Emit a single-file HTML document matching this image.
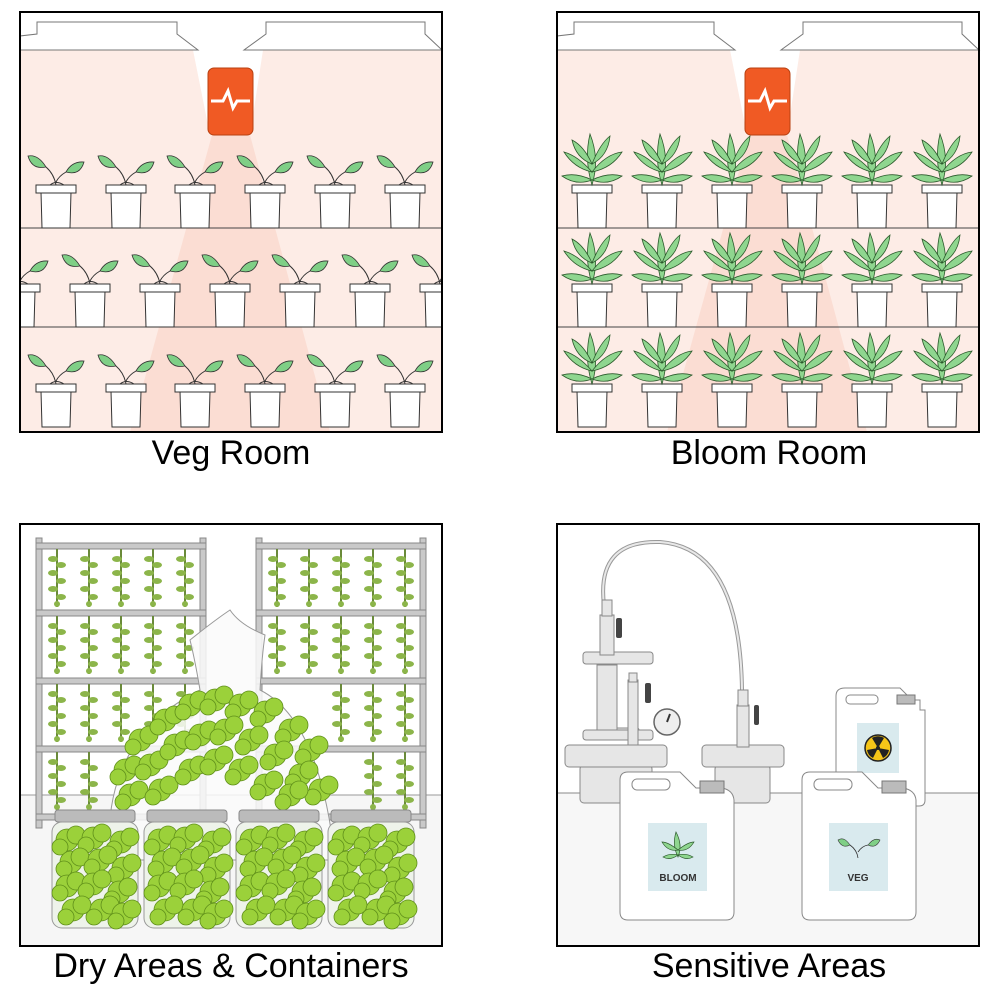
<!DOCTYPE html>
<html><head><meta charset="utf-8"><style>
body{margin:0;background:#fff;width:1000px;height:1000px;overflow:hidden}
.l{position:absolute;font-family:"Liberation Sans",sans-serif;font-size:34px;color:#000;text-align:center;width:440px}
</style></head><body>
<svg width="1000" height="1000" style="position:absolute;left:0;top:0" xmlns="http://www.w3.org/2000/svg">
<defs>
<g id="vp">
<path d="M-15,-2 L-14,34 L14,34 L15,-2Z" fill="#fff" stroke="#333" stroke-width="1"/>
<rect x="-20" y="-9" width="40" height="8" fill="#fff" stroke="#333" stroke-width="1"/>
<path d="M-6,-9 Q0,-14 8,-9" fill="none" stroke="#333"/>
<path d="M0,-9 Q-2,-20 -10,-27 M0,-12 Q3,-18 10,-22" fill="none" stroke="#333"/>
<path d="M-10,-27 Q-18,-40 -28,-38 Q-24,-24 -10,-27Z" fill="#7fcf86" stroke="#333" stroke-width=".8"/>
<path d="M10,-22 Q16,-33 28,-32 Q24,-18 10,-22Z" fill="#7fcf86" stroke="#333" stroke-width=".8"/>
</g>
<g id="bp">
<path d="M-15,-2 L-14,34 L14,34 L15,-2Z" fill="#fff" stroke="#333" stroke-width="1"/>
<rect x="-20" y="-9" width="40" height="8" fill="#fff" stroke="#333" stroke-width="1"/>
<g fill="#8fd68f" stroke="#2c5a2c" stroke-width=".8">
<path d="M0,-9 Q-8,-35 -2,-60 Q8,-35 0,-9Z"/>
<path d="M0,-22 Q-14,-38 -28,-42 Q-18,-26 0,-22Z"/>
<path d="M0,-22 Q14,-40 30,-42 Q20,-26 0,-22Z"/>
<path d="M0,-14 Q-16,-22 -30,-18 Q-16,-8 0,-14Z"/>
<path d="M0,-14 Q16,-22 30,-18 Q16,-8 0,-14Z"/>
<path d="M0,-30 Q8,-50 18,-58 Q16,-38 0,-30Z"/>
<path d="M0,-30 Q-8,-48 -20,-54 Q-16,-36 0,-30Z"/>
</g>
</g>
<g id="hang"><path d="M0,0 v58" stroke="#6a8a3a" stroke-width="2"/>
<g fill="#8cb54a"><ellipse cx="-4" cy="10" rx="5" ry="3"/><ellipse cx="4" cy="16" rx="5" ry="3"/><ellipse cx="-4" cy="24" rx="5" ry="3"/><ellipse cx="4" cy="32" rx="5" ry="3"/><ellipse cx="-4" cy="40" rx="5" ry="3"/><ellipse cx="4" cy="48" rx="5" ry="3"/><ellipse cx="0" cy="55" rx="3" ry="3"/></g></g>
<g id="bud" fill="#9bd13a" stroke="#5f8f1a" stroke-width=".8"><circle r="11"/><circle cx="9" cy="-5" r="9"/><circle cx="-7" cy="7" r="8"/></g>
<g id="jar"><rect x="0" y="0" width="80" height="12" rx="3" fill="#bbb" stroke="#888"/><rect x="-3" y="12" width="86" height="106" rx="10" fill="#eef3ea" stroke="#999"/>
<g><use href="#bud" x="12" y="30"/><use href="#bud" x="38" y="28"/><use href="#bud" x="66" y="32"/><use href="#bud" x="16" y="52"/><use href="#bud" x="44" y="50"/><use href="#bud" x="68" y="58"/><use href="#bud" x="12" y="76"/><use href="#bud" x="38" y="74"/><use href="#bud" x="64" y="82"/><use href="#bud" x="18" y="100"/><use href="#bud" x="46" y="100"/><use href="#bud" x="68" y="104"/></g></g>
</defs>

<!-- Veg room -->
<g>
<rect x="20" y="12" width="422" height="420" fill="#fdece6"/>
<rect x="20" y="12" width="422" height="38" fill="#fff"/>
<path d="M193,50 L210,135 L250,135 L263,50Z" fill="#fff"/>
<path d="M212,135 L130,432 L330,432 L250,135Z" fill="#fadace" opacity=".8"/>
<path d="M37,22 L177,22 L177,34 L198,50 L20,50 L20,36 L37,34Z" fill="#fff" stroke="#777"/>
<path d="M266,22 L425,22 L425,34 L442,50 L263,50 L244,50 L266,34Z" fill="#fff" stroke="#777"/>
<rect x="208" y="68" width="45" height="67" rx="6" fill="#f05a24" stroke="#b84010"/>
<path d="M211,101 h12 l5,-10 l5,17 l4,-7 h13" fill="none" stroke="#fff" stroke-width="3"/>
<line x1="20" y1="228" x2="442" y2="228" stroke="#444"/>
<line x1="20" y1="327" x2="442" y2="327" stroke="#444"/>
<g><use href="#vp" x="56" y="194"/><use href="#vp" x="126" y="194"/><use href="#vp" x="195" y="194"/><use href="#vp" x="265" y="194"/><use href="#vp" x="335" y="194"/><use href="#vp" x="405" y="194"/></g>
<svg x="20" y="228" width="422" height="100" overflow="hidden"><g transform="translate(-20,-228)"><use href="#vp" x="20" y="293"/><use href="#vp" x="90" y="293"/><use href="#vp" x="160" y="293"/><use href="#vp" x="230" y="293"/><use href="#vp" x="300" y="293"/><use href="#vp" x="370" y="293"/><use href="#vp" x="440" y="293"/></g></svg>
<g><use href="#vp" x="56" y="393"/><use href="#vp" x="126" y="393"/><use href="#vp" x="195" y="393"/><use href="#vp" x="265" y="393"/><use href="#vp" x="335" y="393"/><use href="#vp" x="405" y="393"/></g>
<rect x="20" y="12" width="422" height="420" fill="none" stroke="#000" stroke-width="2"/>
</g>

<!-- Bloom room -->
<g>
<rect x="557" y="12" width="422" height="420" fill="#fdece6"/>
<rect x="557" y="12" width="422" height="38" fill="#fff"/>
<path d="M730,50 L747,135 L787,135 L800,50Z" fill="#fff"/>
<path d="M749,135 L667,432 L867,432 L787,135Z" fill="#fadace" opacity=".8"/>
<path d="M574,22 L714,22 L714,34 L735,50 L557,50 L557,36 L574,34Z" fill="#fff" stroke="#777"/>
<path d="M803,22 L962,22 L962,34 L979,50 L781,50 L803,34Z" fill="#fff" stroke="#777"/>
<rect x="745" y="68" width="45" height="67" rx="6" fill="#f05a24" stroke="#b84010"/>
<path d="M748,101 h12 l5,-10 l5,17 l4,-7 h13" fill="none" stroke="#fff" stroke-width="3"/>
<line x1="557" y1="228" x2="979" y2="228" stroke="#444"/>
<line x1="557" y1="327" x2="979" y2="327" stroke="#444"/>
<g><use href="#bp" x="592" y="194"/><use href="#bp" x="662" y="194"/><use href="#bp" x="732" y="194"/><use href="#bp" x="802" y="194"/><use href="#bp" x="872" y="194"/><use href="#bp" x="942" y="194"/></g>
<g><use href="#bp" x="592" y="293"/><use href="#bp" x="662" y="293"/><use href="#bp" x="732" y="293"/><use href="#bp" x="802" y="293"/><use href="#bp" x="872" y="293"/><use href="#bp" x="942" y="293"/></g>
<g><use href="#bp" x="592" y="393"/><use href="#bp" x="662" y="393"/><use href="#bp" x="732" y="393"/><use href="#bp" x="802" y="393"/><use href="#bp" x="872" y="393"/><use href="#bp" x="942" y="393"/></g>
<rect x="557" y="12" width="422" height="420" fill="none" stroke="#000" stroke-width="2"/>
</g>

<!-- Dry area -->
<g>
<rect x="20" y="524" width="422" height="422" fill="#fff"/>
<rect x="20" y="795" width="422" height="151" fill="#f6f6f6"/>
<line x1="20" y1="795" x2="442" y2="795" stroke="#999"/>
<g fill="#c9c9c9" stroke="#888">
<rect x="36" y="538" width="6" height="290"/><rect x="200" y="538" width="6" height="290"/>
<rect x="256" y="538" width="6" height="290"/><rect x="420" y="538" width="6" height="290"/>
<rect x="36" y="543" width="170" height="6"/><rect x="36" y="610" width="170" height="6"/><rect x="36" y="678" width="170" height="6"/><rect x="36" y="746" width="170" height="6"/><rect x="36" y="814" width="170" height="6"/>
<rect x="256" y="543" width="170" height="6"/><rect x="256" y="610" width="170" height="6"/><rect x="256" y="678" width="170" height="6"/><rect x="256" y="746" width="170" height="6"/><rect x="256" y="814" width="170" height="6"/>
</g>
<g>
<use href="#hang" x="57" y="549"/><use href="#hang" x="89" y="549"/><use href="#hang" x="121" y="549"/><use href="#hang" x="153" y="549"/><use href="#hang" x="185" y="549"/>
<use href="#hang" x="57" y="616"/><use href="#hang" x="89" y="616"/><use href="#hang" x="121" y="616"/><use href="#hang" x="153" y="616"/><use href="#hang" x="185" y="616"/>
<use href="#hang" x="57" y="684"/><use href="#hang" x="89" y="684"/><use href="#hang" x="121" y="684"/><use href="#hang" x="153" y="684"/><use href="#hang" x="185" y="684"/>
<use href="#hang" x="57" y="752"/><use href="#hang" x="89" y="752"/>
<use href="#hang" x="277" y="549"/><use href="#hang" x="309" y="549"/><use href="#hang" x="341" y="549"/><use href="#hang" x="373" y="549"/><use href="#hang" x="405" y="549"/>
<use href="#hang" x="277" y="616"/><use href="#hang" x="309" y="616"/><use href="#hang" x="341" y="616"/><use href="#hang" x="373" y="616"/><use href="#hang" x="405" y="616"/>
<use href="#hang" x="341" y="684"/><use href="#hang" x="373" y="684"/><use href="#hang" x="405" y="684"/>
<use href="#hang" x="373" y="752"/><use href="#hang" x="405" y="752"/>
</g>
<path d="M190,640 Q215,620 230,610 Q240,625 265,635 Q262,655 260,690 Q320,720 335,860 L110,860 Q100,740 200,690 Q195,660 190,640Z" fill="#fafafa" fill-opacity=".85" stroke="#999"/>
<g>
<use href="#bud" x="140" y="740"/><use href="#bud" x="165" y="720"/><use href="#bud" x="190" y="705"/><use href="#bud" x="215" y="700"/><use href="#bud" x="240" y="705"/><use href="#bud" x="265" y="712"/><use href="#bud" x="290" y="730"/><use href="#bud" x="310" y="750"/>
<use href="#bud" x="125" y="770"/><use href="#bud" x="150" y="765"/><use href="#bud" x="175" y="745"/><use href="#bud" x="200" y="735"/><use href="#bud" x="225" y="730"/><use href="#bud" x="250" y="740"/><use href="#bud" x="275" y="755"/><use href="#bud" x="300" y="775"/><use href="#bud" x="320" y="790"/>
<use href="#bud" x="130" y="795"/><use href="#bud" x="160" y="790"/><use href="#bud" x="190" y="770"/><use href="#bud" x="215" y="760"/><use href="#bud" x="240" y="770"/><use href="#bud" x="265" y="785"/><use href="#bud" x="290" y="795"/>
</g>
<use href="#jar" x="55" y="810"/><use href="#jar" x="147" y="810"/><use href="#jar" x="239" y="810"/><use href="#jar" x="331" y="810"/>
<rect x="20" y="524" width="422" height="422" fill="none" stroke="#000" stroke-width="2"/>
</g>

<!-- Sensitive -->
<g>
<rect x="557" y="524" width="422" height="422" fill="#fff"/>
<rect x="557" y="793" width="422" height="153" fill="#f7f7f7"/>
<line x1="557" y1="793" x2="979" y2="793" stroke="#888"/>
<path d="M604,605 Q596,540 660,542 Q740,548 742,690" fill="none" stroke="#999" stroke-width="4"/>
<path d="M604,605 Q596,540 660,542 Q740,548 742,690" fill="none" stroke="#e8e8e8" stroke-width="2"/>
<g fill="#e6e6e6" stroke="#888" stroke-width="1">
<rect x="580" y="765" width="72" height="38" rx="4"/>
<rect x="565" y="745" width="102" height="22" rx="4"/>
<rect x="597" y="728" width="42" height="10" rx="2"/>
<rect x="583" y="730" width="70" height="10" rx="3"/>
<rect x="597" y="665" width="20" height="65"/>
<rect x="583" y="652" width="70" height="12" rx="3"/>
<rect x="600" y="615" width="14" height="40"/>
<rect x="602" y="600" width="10" height="16"/>
<rect x="628" y="680" width="10" height="65"/>
<rect x="629" y="673" width="8" height="9"/>
<rect x="715" y="765" width="55" height="38" rx="4"/>
<rect x="702" y="745" width="82" height="22" rx="4"/>
<rect x="737" y="705" width="12" height="42"/>
<rect x="738" y="690" width="10" height="16"/>
</g>
<g fill="#444"><rect x="616" y="618" width="6" height="20" rx="2"/><rect x="645" y="683" width="6" height="20" rx="2"/><rect x="754" y="705" width="5" height="20" rx="2"/></g>
<circle cx="667" cy="722" r="13" fill="#eee" stroke="#666" stroke-width="1.5"/>
<line x1="667" y1="722" x2="670" y2="714" stroke="#333" stroke-width="2"/>
<path d="M845,688 L900,688 L912,700 L920,700 L920,710 L925,710 L925,800 Q925,806 919,806 L842,806 Q836,806 836,800 L836,696 Q836,688 845,688Z" fill="#fff" stroke="#888"/>
<rect x="846" y="695" width="32" height="9" rx="4" fill="#fff" stroke="#888"/>
<rect x="897" y="695" width="18" height="9" fill="#bbb" stroke="#777"/>
<rect x="857" y="723" width="42" height="50" fill="#d9eaee"/>
<circle cx="878" cy="748" r="13" fill="#f5c518" stroke="#222" stroke-width="1.5"/>
<g fill="#222"><circle cx="878" cy="748" r="2"/><path d="M878,748 L872,738 A11,11 0 0 1 884,738Z"/><path d="M878,748 L889,750 A11,11 0 0 1 883,758Z"/><path d="M878,748 L873,758 A11,11 0 0 1 867,750Z"/></g>
<path d="M628,772 L680,772 L696,788 L722,788 Q733,790 734,800 L734,912 Q734,920 726,920 L628,920 Q620,920 620,912 L620,780 Q620,772 628,772Z" fill="#fff" stroke="#888"/>
<rect x="632" y="779" width="38" height="11" rx="5" fill="#fff" stroke="#888"/>
<rect x="700" y="781" width="24" height="12" fill="#bbb" stroke="#777"/>
<rect x="648" y="823" width="59" height="68" fill="#d9eaee"/>
<g fill="#8fd68f" stroke="#2c5a2c" stroke-width=".7"><path d="M678,857 Q672,845 676,832 Q683,845 678,857Z"/><path d="M678,850 Q668,842 662,842 Q668,852 678,850Z"/><path d="M678,850 Q688,842 694,842 Q688,852 678,850Z"/><path d="M678,855 Q670,853 663,857 Q670,861 678,855Z"/><path d="M678,855 Q686,853 693,857 Q686,861 678,855Z"/></g>
<text x="678" y="881" font-family="Liberation Sans,sans-serif" font-weight="bold" font-size="10" fill="#333" text-anchor="middle">BLOOM</text>
<path d="M810,772 L862,772 L878,788 L903,788 Q915,790 916,800 L916,912 Q916,920 908,920 L810,920 Q802,920 802,912 L802,780 Q802,772 810,772Z" fill="#fff" stroke="#888"/>
<rect x="814" y="779" width="38" height="11" rx="5" fill="#fff" stroke="#888"/>
<rect x="882" y="781" width="24" height="12" fill="#bbb" stroke="#777"/>
<rect x="829" y="823" width="59" height="68" fill="#d9eaee"/>
<path d="M858,858 Q857,850 850,845 M858,852 Q862,846 868,845" fill="none" stroke="#333" stroke-width=".8"/>
<path d="M850,845 Q844,836 838,840 Q842,849 850,845Z" fill="#7fcf86" stroke="#333" stroke-width=".6"/>
<path d="M868,845 Q874,837 880,840 Q876,849 868,845Z" fill="#7fcf86" stroke="#333" stroke-width=".6"/>
<text x="858" y="881" font-family="Liberation Sans,sans-serif" font-weight="bold" font-size="10" fill="#333" text-anchor="middle">VEG</text>
<rect x="557" y="524" width="422" height="422" fill="none" stroke="#000" stroke-width="2"/>
</g>
</svg>
<div class="l" style="left:11px;top:434px">Veg Room</div>
<div class="l" style="left:549px;top:434px">Bloom Room</div>
<div class="l" style="left:11px;top:947px">Dry Areas &amp; Containers</div>
<div class="l" style="left:549px;top:947px">Sensitive Areas</div>
</body></html>
